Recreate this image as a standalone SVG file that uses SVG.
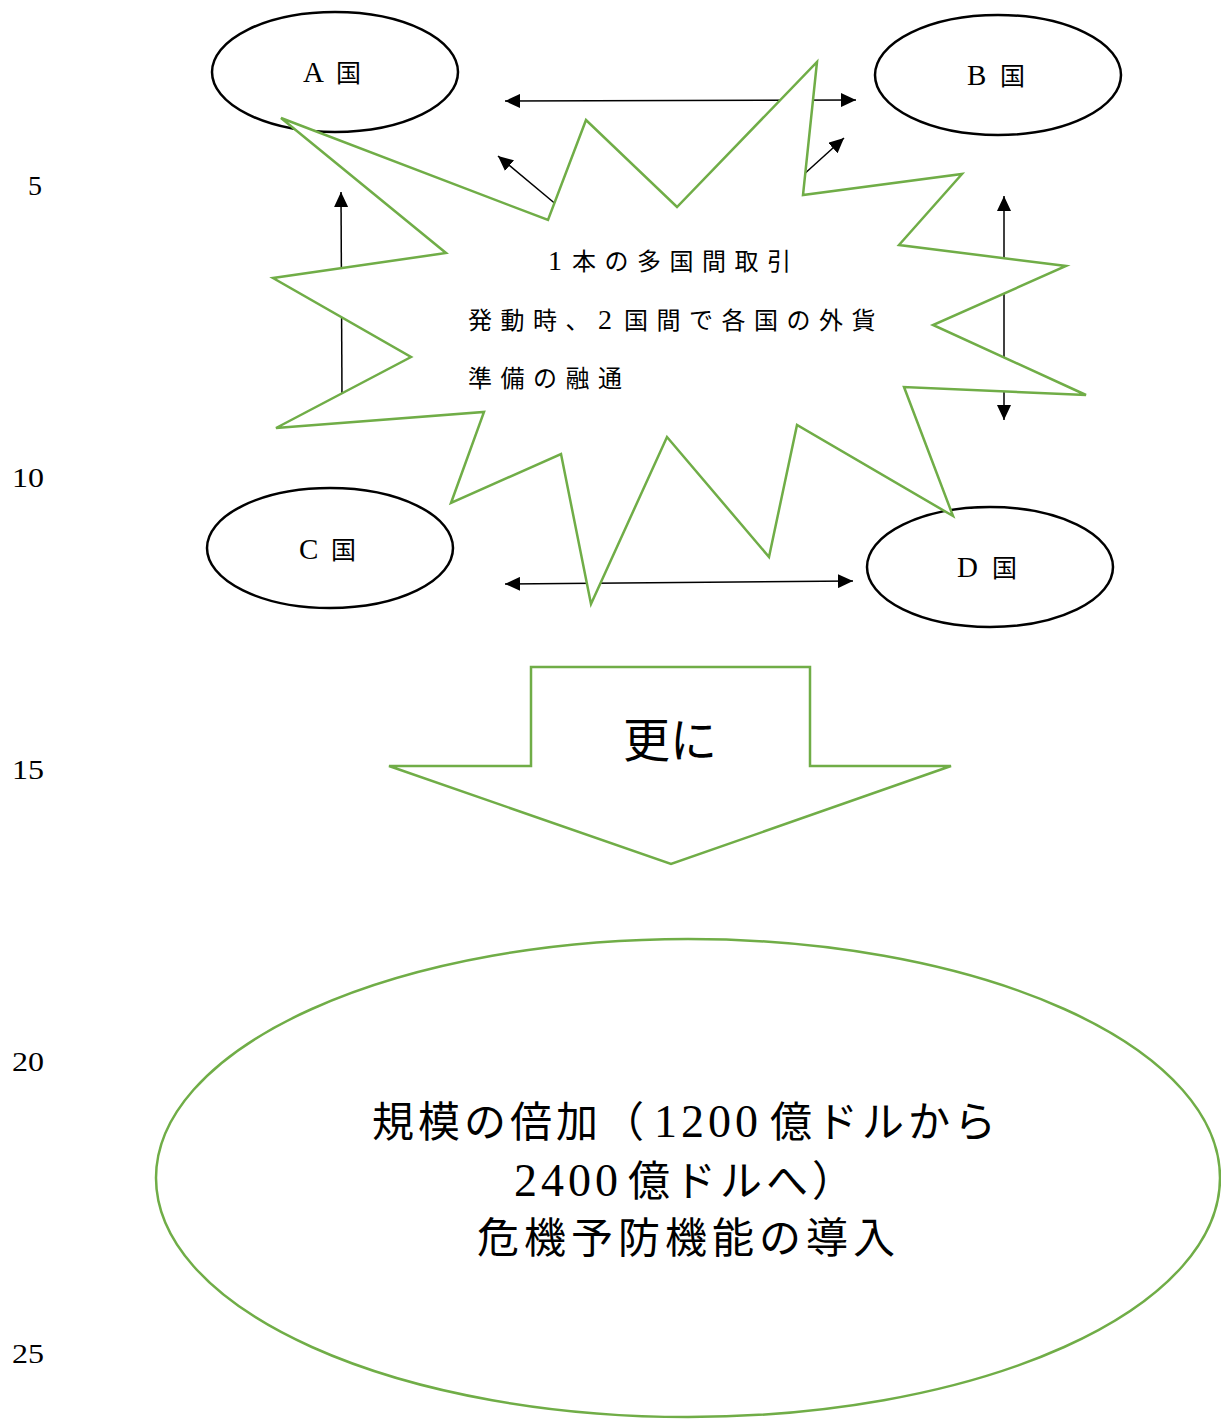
<svg xmlns="http://www.w3.org/2000/svg" width="1221" height="1419" viewBox="0 0 1221 1419">
<style>
.bg{fill:#ffffff}
.node{fill:#ffffff;stroke:#000000;stroke-width:2.5}
.green{fill:#ffffff;stroke:#70AD47;stroke-width:2.5;stroke-linejoin:miter}
.conn{stroke:#000000;stroke-width:1.5;fill:none}
.t{font-family:"Liberation Serif","Noto Sans CJK JP",serif;fill:#000000}
.lbl{font-size:25px}
.lat{font-size:29px}
.burst{font-size:24px}
.dig{font-size:28px}
.ln{font-size:27px}
.big{font-size:42px}
.bigd{font-size:46px}
</style>
<defs>
<marker id="ah" viewBox="0 0 15 14" refX="15" refY="7" markerWidth="15" markerHeight="14" markerUnits="userSpaceOnUse" orient="auto-start-reverse">
<path d="M0,0 L15,7 L0,14 z" fill="#000000"/>
</marker>
</defs>
<rect class="bg" x="0" y="0" width="1221" height="1419"/>

<g id="line-numbers">
<text class="t ln" x="28" y="195" textLength="14" lengthAdjust="spacingAndGlyphs">5</text>
<text class="t ln" x="12" y="487" textLength="32" lengthAdjust="spacingAndGlyphs">10</text>
<text class="t ln" x="12" y="779" textLength="32" lengthAdjust="spacingAndGlyphs">15</text>
<text class="t ln" x="12" y="1071" textLength="32" lengthAdjust="spacingAndGlyphs">20</text>
<text class="t ln" x="12" y="1363" textLength="32" lengthAdjust="spacingAndGlyphs">25</text>
</g>

<g id="node-A">
<ellipse class="node" cx="335" cy="72" rx="123" ry="60"/>
<text class="t lbl" x="303" y="82"><tspan class="lat">A</tspan><tspan x="336">国</tspan></text>
</g>
<g id="node-B">
<ellipse class="node" cx="998" cy="75" rx="123" ry="60"/>
<text class="t lbl" x="967" y="85"><tspan class="lat">B</tspan><tspan x="1000">国</tspan></text>
</g>
<g id="node-C">
<ellipse class="node" cx="330" cy="548" rx="123" ry="60"/>
<text class="t lbl" x="299" y="559"><tspan class="lat">C</tspan><tspan x="331">国</tspan></text>
</g>
<g id="node-D">
<ellipse class="node" cx="990" cy="567" rx="123" ry="60"/>
<text class="t lbl" x="957" y="577"><tspan class="lat">D</tspan><tspan x="992">国</tspan></text>
</g>

<g id="connectors">
<line class="conn" x1="505" y1="101" x2="856" y2="100" marker-start="url(#ah)" marker-end="url(#ah)"/>
<line class="conn" x1="505" y1="584" x2="853" y2="581" marker-start="url(#ah)" marker-end="url(#ah)"/>
<line class="conn" x1="342" y1="400" x2="341" y2="192" marker-end="url(#ah)"/>
<line class="conn" x1="1004" y1="196" x2="1004" y2="420" marker-start="url(#ah)" marker-end="url(#ah)"/>
<line class="conn" x1="558" y1="206" x2="498" y2="156" marker-end="url(#ah)"/>
<line class="conn" x1="802" y1="176" x2="844" y2="138" marker-end="url(#ah)"/>
</g>

<g id="node-burst">
<polygon class="green" points="281,118 548,220 586,120 677,207 817,62 803,195 962,174 899,245 1066,266 933,325 1086,395 904,387 953,516 797,425 769,557 667,437 591,604 561,454 451,503 484,412 276,428 411,357 273,278 446,253"/>
<text class="t burst" x="548" y="270" letter-spacing="8.5"><tspan class="dig">1</tspan><tspan x="572">本の多国間取引</tspan></text>
<text class="t burst" x="468" y="329" letter-spacing="8.5">発動時<tspan letter-spacing="0">、</tspan><tspan class="dig" x="598">2</tspan><tspan x="624">国間で各国の外貨</tspan></text>
<text class="t burst" x="468" y="387" letter-spacing="8.5">準備の融通</text>
</g>

<g id="node-arrow">
<polygon class="green" points="531,667 810,667 810,766 951,766 671,864 389,766 531,766"/>
<text class="t" x="670" y="757" font-size="47" text-anchor="middle">更に</text>
</g>

<g id="node-result">
<ellipse class="green" cx="688" cy="1178" rx="532" ry="239" stroke-width="2"/>
<text class="t big" x="372" y="1137" letter-spacing="4">規模の倍加（<tspan class="bigd" x="654">1200</tspan><tspan x="770">億ドルから</tspan></text>
<text class="t big" x="514" y="1196" letter-spacing="4"><tspan class="bigd">2400</tspan><tspan x="628">億ドルへ）</tspan></text>
<text class="t big" x="477" y="1253" letter-spacing="5">危機予防機能の導入</text>
</g>
</svg>
